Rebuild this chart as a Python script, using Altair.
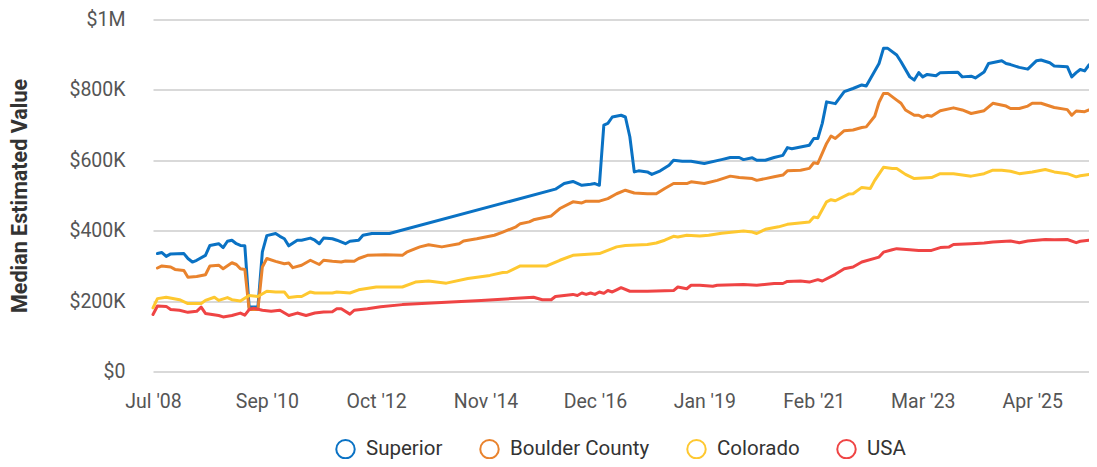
import altair as alt
import pandas as pd

# (months since Jul 2008, median estimated value in $K)
superior = [(1,335),(2,338),(3,327),(4,334),(7,335),(8,321),(9,311),(10,316),(12,330),(13,358),
            (15,363),(16,352),(17,370),(18,373),(19,363),(20,358),(21,357),(22,183),(24,183),(25,340),
            (26,386),(28,392),(29,384),(30,377),(31,357),(33,373),(34,373),(36,379),(37,373),(38,363),
            (39,379),(41,377),(42,373),(44,363),(45,370),(47,373),(48,387),(50,392),(53,392),(54,392),
            (92,518),(94,534),(96,540),(98,529),(100,532),(101,534),(102,529),(103,700),(104,705),(105,723),
            (107,728),(108,723),(109,667),(110,567),(111,570),(113,567),(114,560),(116,570),(118,586),(119,600),
            (121,597),(123,597),(125,593),(126,591),(130,602),(132,608),(134,608),(135,602),(137,607),(138,600),
            (140,600),(142,608),(144,614),(145,636),(146,633),(148,638),(150,643),(151,662),(152,662),(153,705),
            (154,766),(156,761),(158,795),(160,804),(162,814),(163,811),(166,875),(167,918),(168,918),(170,899),
            (171,880),(173,837),(174,828),(175,849),(176,837),(177,844),(179,840),(180,849),(184,850),(185,837),
            (187,839),(188,834),(190,851),(191,875),(194,883),(195,875),(196,872),(198,864),(200,859),(202,883),
            (203,885),(205,877),(206,868),(209,866),(210,837),(211,849),(212,858),(213,854),(214,871)]

boulder = [(1,294),(2,300),(4,297),(5,290),(7,287),(8,268),(10,270),(12,275),(13,300),(15,302),
           (16,292),(18,309),(19,304),(20,292),(21,290),(22,176),(24,176),(25,297),(26,321),(28,313),
           (30,306),(31,308),(32,295),(34,302),(36,316),(38,304),(39,316),(41,313),(43,311),(44,314),
           (46,313),(47,321),(49,330),(53,332),(57,330),(58,339),(60,349),(61,354),(63,360),(66,354),
           (70,363),(71,371),(74,377),(78,387),(80,396),(83,411),(84,420),(86,425),(87,431),(91,442),
           (93,463),(96,482),(98,479),(99,484),(102,484),(104,491),(106,505),(108,515),(110,507),(113,505),
           (115,505),(117,520),(119,534),(122,534),(123,539),(126,534),(129,543),(132,555),(134,551),(137,548),
           (138,543),(140,548),(142,553),(144,558),(145,570),(148,572),(150,577),(151,593),(152,591),(154,648),
           (155,669),(156,662),(158,684),(160,686),(162,693),(163,695),(165,725),(166,765),(167,790),(168,790),
           (170,771),(171,762),(172,743),(174,728),(175,728),(176,722),(177,728),(178,725),(180,741),(183,749),
           (185,743),(187,733),(190,741),(192,762),(195,754),(196,747),(198,747),(200,754),(201,762),(203,762),
           (206,750),(209,744),(210,728),(211,740),(213,738),(214,743)]

colorado = [(0,181),(1,207),(3,211),(6,204),(8,193),(11,193),(12,202),(14,211),(15,202),(17,210),
            (18,204),(20,200),(22,216),(24,213),(26,228),(28,226),(30,226),(31,210),(33,213),(34,213),
            (36,226),(37,223),(41,223),(42,226),(45,223),(47,232),(51,240),(57,240),(60,254),(63,257),
            (67,251),(72,264),(77,273),(80,281),(81,282),(84,300),(90,300),(93,316),(96,330),(102,335),
            (106,354),(108,358),(113,361),(115,365),(117,373),(119,384),(120,382),(122,387),(125,385),(127,387),
            (130,393),(135,399),(137,396),(138,392),(140,404),(143,411),(145,418),(150,425),(151,439),(152,437),
            (154,482),(155,488),(156,485),(159,504),(160,505),(162,523),(164,520),(165,543),(167,580),(169,577),
            (170,577),(172,560),(174,548),(178,551),(180,562),(183,562),(187,555),(190,562),(192,572),(194,572),
            (196,569),(198,562),(201,567),(204,574),(206,567),(209,562),(211,553),(212,556),(214,560)]

usa = [(0,162),(1,186),(3,185),(4,176),(6,174),(8,168),(10,171),(11,183),(12,165),(15,159),
       (16,155),(18,159),(20,166),(21,160),(22,176),(23,180),(25,174),(27,171),(29,174),(31,159),
       (33,166),(35,159),(37,166),(39,169),(41,170),(42,178),(43,178),(45,163),(46,174),(49,178),
       (52,184),(57,190),(67,197),(75,202),(87,211),(89,204),(91,204),(92,213),(96,219),(97,216),
       (98,223),(99,219),(100,223),(101,219),(102,226),(103,222),(104,230),(105,226),(106,232),(107,238),
       (109,228),(113,228),(119,230),(120,240),(122,235),(123,245),(125,245),(128,242),(129,245),(135,247),
       (138,245),(142,250),(144,250),(145,256),(148,257),(150,254),(152,261),(153,257),(156,276),(158,292),
       (160,297),(162,311),(166,325),(167,339),(169,346),(170,349),(173,346),(175,344),(178,344),(180,352),
       (182,354),(183,361),(187,363),(190,365),(192,368),(196,371),(198,366),(200,371),(204,375),(206,374),
       (209,375),(211,366),(212,370),(214,373)]

series_names = ["Superior", "Boulder County", "Colorado", "USA"]
series_colors = ["#0a72c4", "#e9832d", "#fec830", "#ef4444"]
tick_months = [(2008, 7), (2010, 9), (2012, 10), (2014, 11), (2016, 12),
               (2019, 1), (2021, 2), (2023, 3), (2025, 4)]
y_ticks = [0, 200, 400, 600, 800, 1000]

start = pd.Timestamp("2008-07-01")
rows = []
for name, pts in zip(series_names, [superior, boulder, colorado, usa]):
    for m, v in pts:
        rows.append({"date": start + pd.DateOffset(months=m), "value": v, "series": name})
df = pd.DataFrame(rows)

chart = alt.Chart(df).mark_line(strokeWidth=3, strokeJoin="round", strokeCap="round").encode(
    x=alt.X("date:T",
            scale=alt.Scale(domain=[alt.DateTime(year=2008, month=7, date=1),
                                    alt.DateTime(year=2026, month=5, date=1)]),
            axis=alt.Axis(values=[alt.DateTime(year=y, month=mo, date=1) for y, mo in tick_months],
                          format="%b '%y", grid=False, domain=False, ticks=False,
                          labelPadding=21, labelFontSize=19.5, labelColor="#555",
                          labelFlush=False, labelOverlap=False, title=None)),
    y=alt.Y("value:Q",
            scale=alt.Scale(domain=[0, 1000], nice=False),
            axis=alt.Axis(values=y_ticks,
                          labelExpr="datum.value == 0 ? '$0' : datum.value >= 1000 ? '$1M' : '$' + datum.value + 'K'",
                          grid=True, gridColor="#cccccc", gridWidth=1.3, domain=False, ticks=False,
                          labelPadding=28, labelFontSize=19.5, labelColor="#555",
                          title="Median Estimated Value", titleFontSize=21.5, titleFontWeight="bold",
                          titleColor="#333", titlePadding=37)),
    color=alt.Color("series:N",
                    scale=alt.Scale(domain=series_names, range=series_colors),
                    legend=alt.Legend(orient="none", legendX=182, legendY=419, direction="horizontal",
                                      title=None, symbolType="circle", symbolSize=340,
                                      symbolStrokeWidth=2, symbolFillColor="white",
                                      labelFontSize=20.5, labelColor="#333", labelOffset=10,
                                      columnPadding=33)),
).properties(
    width=936, height=352,
    autosize=alt.AutoSizeParams(type="none"),
    padding={"left": 145, "top": 11.5, "right": 0, "bottom": 87.5},
).configure(font="Roboto").configure_view(stroke=None)

chart.save("out.html", embed_options={"renderer": "svg", "actions": False})
